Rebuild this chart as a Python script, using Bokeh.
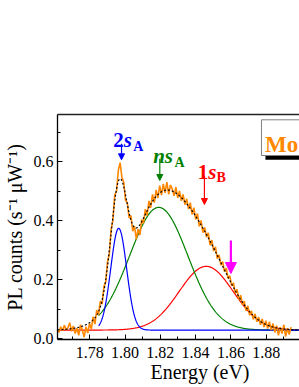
import numpy as np
from bokeh.plotting import figure
from bokeh.models import (Range1d, LinearAxis, FixedTicker, PrintfTickFormatter,
                          Label, Arrow, NormalHead, Title)
from bokeh.embed import file_html
from bokeh.resources import INLINE

# ---------------- data ----------------
x_tick_values = [1.78, 1.80, 1.82, 1.84, 1.86, 1.88, 1.90]
x_minor_values = [1.77, 1.79, 1.81, 1.83, 1.85, 1.87, 1.89]
y_tick_values = [0.0, 0.2, 0.4, 0.6]
y_minor_values = [0.1, 0.3, 0.5, 0.7]

# measured PL spectrum (orange), regular energy grid
energy_start = 1.7615
energy_step = 0.00102
pl_counts = [
    0.035, 0.022, 0.041, 0.028, 0.046, 0.031, 0.038, 0.055, 0.026, 0.044,
    0.018, 0.036, 0.012, 0.048, 0.030, 0.006, 0.041, 0.020, 0.052, 0.034,
    0.075, 0.050, 0.098, 0.082, 0.128, 0.118, 0.178, 0.192, 0.262, 0.288,
    0.372, 0.402, 0.488, 0.500, 0.572, 0.598, 0.548, 0.532, 0.470, 0.462,
    0.410, 0.418, 0.365, 0.382, 0.338, 0.372, 0.352, 0.405, 0.392, 0.440,
    0.418, 0.468, 0.445, 0.490, 0.462, 0.505, 0.478, 0.520, 0.488, 0.526,
    0.495, 0.532, 0.490, 0.522, 0.508, 0.485, 0.515, 0.478, 0.502, 0.468,
    0.490, 0.455, 0.475, 0.440, 0.462, 0.422, 0.445, 0.405, 0.425, 0.382,
    0.402, 0.360, 0.378, 0.345, 0.360, 0.318, 0.335, 0.298, 0.312, 0.272,
    0.285, 0.250, 0.262, 0.228, 0.240, 0.205, 0.214, 0.180, 0.190, 0.155,
    0.168, 0.132, 0.148, 0.115, 0.128, 0.095, 0.112, 0.080, 0.095, 0.066,
    0.085, 0.058, 0.074, 0.048, 0.068, 0.040, 0.062, 0.035, 0.058, 0.030,
    0.052, 0.022, 0.045, 0.012, 0.040, 0.018, 0.048, 0.008, 0.036, 0.015,
    0.040,
]

# Gaussian fit components (2s_A, ns_A, 1s_B) on a constant background
fit_background = 0.030
peak_names = ["2s_A", "ns_A", "1s_B"]
peak_centres = [1.7964, 1.8191, 1.8460]
peak_heights = [0.345, 0.416, 0.216]
peak_sigmas = [0.0045, 0.0165, 0.0153]
peak_fit_start = [1.785, 1.785, 1.7617]
peak_colors = ["#0000FF", "#008000", "#FF0000"]

# arrows marking the states
arrow_energy = [1.798, 1.8197, 1.845, 1.860]

# ---------------- figure ----------------
X_LO, X_HI = 1.7617, 1.8989
Y_LO, Y_HI = -0.002, 0.761
ORANGE = "#FF8800"
FONT = "Liberation Serif"

p = figure(width=299, height=387,
           x_range=Range1d(X_LO, X_HI), y_range=Range1d(Y_LO, Y_HI),
           output_backend="svg", toolbar_location=None,
           min_border_left=57, min_border_right=0,
           min_border_top=114, min_border_bottom=48,
           outline_line_color=None,
           background_fill_color="white", border_fill_color="white")
p.grid.visible = False


def style_axis(ax):
    ax.axis_line_color = "black"
    ax.axis_line_width = 1.3
    ax.major_tick_in = 5
    ax.major_tick_out = 0
    ax.minor_tick_in = 3
    ax.minor_tick_out = 0
    ax.major_tick_line_color = "black"
    ax.minor_tick_line_color = "black"
    ax.major_tick_line_width = 1
    ax.minor_tick_line_width = 1
    ax.major_label_text_font = FONT
    ax.major_label_text_font_size = "16px"
    ax.major_label_text_font_style = "normal"
    ax.major_label_text_color = "black"


style_axis(p.xaxis[0])
style_axis(p.yaxis[0])
p.xaxis.ticker = FixedTicker(ticks=x_tick_values, minor_ticks=x_minor_values)
p.yaxis.ticker = FixedTicker(ticks=y_tick_values, minor_ticks=y_minor_values)
p.xaxis.formatter = PrintfTickFormatter(format="%.2f")
p.yaxis.formatter = PrintfTickFormatter(format="%.1f")
p.xaxis.major_label_standoff = 7
p.yaxis.major_label_standoff = 4

top_axis = LinearAxis(ticker=FixedTicker(ticks=[]),
                      major_label_text_font_size="0px",
                      major_tick_line_color=None, minor_tick_line_color=None,
                      axis_line_color="#222222", axis_line_width=1.3)
p.add_layout(top_axis, "above")

# axis titles as side titles (so they are laid out outside the frame)
p.add_layout(Title(text="Energy (eV)", align="left", offset=93, standoff=-4,
                   text_font=FONT, text_font_size="20px",
                   text_font_style="normal", text_color="black"), "below")
p.add_layout(Title(text="PL counts (s\u207b\u00b9 \u03bcW\u207b\u00b9)", align="center",
                   vertical_align="top", standoff=6,
                   text_font=FONT, text_font_size="20px",
                   text_font_style="normal", text_color="black"), "left")

# ---------------- fit components ----------------
def gauss(x, c, h, s):
    return h * np.exp(-0.5 * ((x - c) / s) ** 2)

for k in [2, 1, 0]:  # red, green, blue
    xs = np.linspace(peak_fit_start[k], X_HI, 700)
    ys = fit_background + gauss(xs, peak_centres[k], peak_heights[k], peak_sigmas[k])
    p.line(xs, ys, line_color=peak_colors[k], line_width=1.2)

# measured data
energy = np.round(energy_start + energy_step * np.arange(len(pl_counts)), 5)
p.line(energy, pl_counts, line_color=ORANGE, line_width=1.6)

# total fit
xt = np.linspace(X_LO, X_HI, 900)
yt = fit_background + sum(gauss(xt, c, h, s) for c, h, s in
                          zip(peak_centres, peak_heights, peak_sigmas))
p.line(xt, yt, line_color="black", line_width=1.2, line_dash="2 2")

# ---------------- peak labels ----------------
def lab(x, y, text, color, size, style):
    p.add_layout(Label(x=x, y=y, text=text, text_color=color, text_font=FONT,
                       text_font_size=size, text_font_style=style,
                       text_align="left", text_baseline="alphabetic"))

lab(1.79327, 0.6752, "2", "#0000FF", "21px", "bold")
lab(1.79922, 0.6752, "s", "#0000FF", "21px", "bold italic")
lab(1.80460, 0.6535, "A", "#0000FF", "14px", "bold")

lab(1.81594, 0.6186, "ns", "#008000", "21px", "bold italic")
lab(1.82802, 0.5993, "A", "#008000", "14px", "bold")

lab(1.84122, 0.5677, "1", "#FF0000", "21px", "bold")
lab(1.84718, 0.5677, "s", "#FF0000", "21px", "bold italic")
lab(1.85183, 0.5463, "B", "#FF0000", "14px", "bold")

arrow_specs = [
    (arrow_energy[0], 0.6616, 0.6074, "#0000FF", 1.2, 6),
    (arrow_energy[1], 0.6108, 0.5372, "#008000", 1.2, 6),
    (arrow_energy[2], 0.5541, 0.4558, "#FF0000", 1.2, 6),
    (arrow_energy[3], 0.3337, 0.2218, "#FF00FF", 2.2, 11),
]
for ax_, y0, y1, c, w, hs in arrow_specs:
    p.add_layout(Arrow(end=NormalHead(size=hs, fill_color=c, line_color=c, line_width=1),
                       x_start=ax_, y_start=y0, x_end=ax_, y_end=y1,
                       line_color=c, line_width=w))

# ---------------- legend box "Mo" (cut at the right edge) ----------------
p.quad(left=[1.87959], right=[1.95], top=[0.7295], bottom=[0.6074],
       fill_color="black", line_color=None)
p.quad(left=[1.87733], right=[1.95], top=[0.743], bottom=[0.622],
       fill_color="white", line_color="#808080", line_width=1)
lab(1.87935, 0.6583, "Mo", ORANGE, "23px", "bold")

open("out.html", "w").write(file_html(p, INLINE))
